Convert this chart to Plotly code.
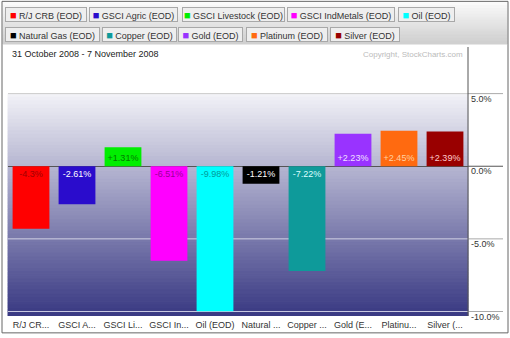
import plotly.graph_objects as go

# Weekly performance, 31 Oct 2008 - 7 Nov 2008
names = ["R/J CRB (EOD)", "GSCI Agric (EOD)", "GSCI Livestock (EOD)", "GSCI IndMetals (EOD)",
         "Oil (EOD)", "Natural Gas (EOD)", "Copper (EOD)", "Gold (EOD)", "Platinum (EOD)",
         "Silver (EOD)"]
short_names = ["R/J CR...", "GSCI A...", "GSCI Li...", "GSCI In...", "Oil (EOD)",
               "Natural ...", "Copper ...", "Gold (E...", "Platinu...", "Silver (..."]
changes = [-4.3, -2.61, 1.31, -6.51, -9.98, -1.21, -7.22, 2.23, 2.45, 2.39]
bar_colors = ["#ff0000", "#2a0ccc", "#00ee00", "#ff00ff", "#00ffff", "#000000",
              "#0e9a9a", "#9933ff", "#ff6a10", "#990000"]
text_colors = ["#a00000", "#ffffff", "#007a00", "#9a0099", "#009a9a", "#ffffff",
               "#dcffff", "#f0e0ff", "#ffd0a0", "#ffcccc"]
tick_vals = [5, 0, -5, -10]
tick_text = ["5.0%", "0.0%", "-5.0%", "-10.0%"]
y_range = [-10.31, 8.14]

W, H = 510, 338
L, R, T, B = 8, 468, 48, 318  # plot area in pixels
FONT = "Liberation Sans, Arial, sans-serif"


def px(x):
    return (x - L) / (R - L)


def py(y):
    return (B - y) / (B - T)


labels = [f"{v:+g}%" for v in changes]

fig = go.Figure(go.Bar(
    x=short_names, y=changes, marker=dict(color=bar_colors, line=dict(width=0)),
    text=labels, textposition="inside", insidetextanchor="start", textangle=0,
    constraintext="none",
    textfont=dict(size=9, color=text_colors, family=FONT),
    hovertext=names, showlegend=False,
))

shapes = []

# header band behind the tabs
n_head = 14
for i in range(n_head):
    t = i / (n_head - 1)
    c = int(250 - 42 * t)
    y0 = 2 + i * 42 / n_head
    col = f"rgb({c},{c},{c})"
    shapes.append(dict(type="rect", xref="paper", yref="paper", layer="below",
                       x0=px(3), x1=px(507), y0=py(y0), y1=py(y0 + 42 / n_head),
                       line=dict(width=1, color=col), fillcolor=col))

# plot background gradient from the 5% line down
n_grad = 60
top_v, bot_v = 5.0, y_range[0]
c_top = (242, 242, 247)
c_bot = (58, 58, 132)
for i in range(n_grad):
    t = i / (n_grad - 1)
    rgb = tuple(int(c_top[k] + (c_bot[k] - c_top[k]) * t) for k in range(3))
    col = f"rgb{rgb}"
    v0 = top_v + (bot_v - top_v) * i / n_grad
    v1 = top_v + (bot_v - top_v) * (i + 1) / n_grad
    shapes.append(dict(type="rect", xref="paper", yref="y", layer="below",
                       x0=0, x1=1, y0=v1, y1=v0,
                       line=dict(width=1, color=col), fillcolor=col))

# horizontal grid lines inside the plot (drawn over the gradient)
for v in tick_vals:
    if v == 0:
        continue
    shapes.append(dict(type="line", xref="paper", yref="y", layer="below",
                       x0=0, x1=1, y0=v, y1=v,
                       line=dict(color="#cccccc" if v > 0 else "rgba(225,225,240,0.85)",
                                 width=1)))

# grid line extensions under the right-hand labels
for v in tick_vals:
    shapes.append(dict(type="line", xref="paper", yref="y", x0=1, x1=px(503), y0=v, y1=v,
                       line=dict(color="#555555" if v == 0 else "#aaaaaa", width=1)))

# right edge of the plot
shapes.append(dict(type="line", xref="paper", yref="paper", x0=1, x1=1, y0=0, y1=py(47),
                   line=dict(color="#555555", width=1)))
# outer frame
shapes.append(dict(type="rect", xref="paper", yref="paper", x0=px(2), x1=px(508),
                   y0=py(335), y1=py(1), line=dict(color="#666666", width=1)))

# legend tabs (left px, right px, row centre px)
tabs = [(5, 87, 14), (89, 178, 14), (182, 285, 14), (287, 395, 14), (398, 455, 14),
        (5, 100, 34), (102, 177, 34), (178, 243, 34), (246, 328, 34), (330, 400, 34)]
annotations = []
for (x0, x1, yc), name, col in zip(tabs, names, bar_colors):
    annotations.append(dict(
        xref="paper", yref="paper", x=px(x0), y=py(yc), xanchor="left", yanchor="middle",
        text=f'<span style="color:{col};font-size:11px">■</span> {name}', showarrow=False,
        width=x1 - x0 - 2, height=13, align="center", borderpad=0,
        bgcolor="#eeeeee", bordercolor="#a8a8a8", borderwidth=1,
        font=dict(size=9, color="#333333", family=FONT)))

annotations.append(dict(xref="paper", yref="paper", x=px(10), y=py(54), xanchor="left",
                        yanchor="middle", showarrow=False,
                        text="31 October 2008 - 7 November 2008",
                        font=dict(size=9, color="#222222", family=FONT)))
annotations.append(dict(xref="paper", yref="paper", x=px(465), y=py(55), xanchor="right",
                        yanchor="middle", showarrow=False,
                        text="Copyright, StockCharts.com",
                        font=dict(size=8, color="#bbbbbb", family=FONT)))

fig.update_layout(
    width=W, height=H,
    margin=dict(l=L, r=W - R, t=T, b=H - B, pad=0),
    paper_bgcolor="white", plot_bgcolor="white",
    bargap=0.2,
    uniformtext=dict(minsize=9, mode="show"),
    shapes=shapes, annotations=annotations,
    font=dict(family=FONT, size=9, color="#333333"),
    xaxis=dict(showgrid=False, zeroline=False, showline=False, ticks="",
               tickfont=dict(size=9, color="#333333"), ticklabelstandoff=2,
               fixedrange=True),
    yaxis=dict(side="right", range=y_range, tickvals=tick_vals, ticktext=tick_text,
               showgrid=False,
               zeroline=True, zerolinecolor="#555555", zerolinewidth=1,
               showline=False, ticks="", ticklabelstandoff=2, ticklabelshift=5,
               tickfont=dict(size=9, color="#333333"), fixedrange=True),
)

fig.write_html("out.html")
